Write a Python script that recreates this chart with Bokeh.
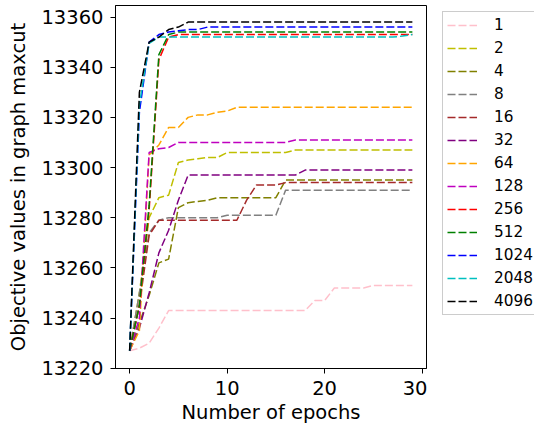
from bokeh.plotting import figure
from bokeh.models import Legend, LegendItem, FixedTicker, Range1d
from bokeh.layouts import row
from bokeh.embed import file_html
from bokeh.resources import INLINE

epochs = list(range(30))

s1 = [13227, 13228, 13230, 13236] + [13243] * 15 + [13247, 13247] + [13252] * 4 + [13253] * 5
s2 = [13227, 13250, 13280, 13288, 13289, 13302, 13303, 13303.5, 13304, 13304] + [13306] * 7 + [13307] * 13
s4 = [13227, 13238, 13249, 13262, 13263.5, 13284, 13286, 13286.5, 13287, 13288] + [13288] * 6 + [13295] * 14
s8 = [13227, 13250, 13274, 13279] + [13280] * 6 + [13281] * 6 + [13291] * 14
s16 = [13227, 13245, 13273] + [13279] * 9 + [13287] + [13293] * 3 + [13294] * 14
s32 = [13227, 13236, 13250, 13266, 13275, 13287] + [13297] * 12 + [13299] * 12
s64 = [13227, 13235, 13305, 13309, 13316, 13316, 13320, 13321, 13321, 13322, 13322.5] + [13324] * 19
s128 = [13227, 13240, 13306, 13307.5, 13308] + [13310] * 12 + [13311] * 13
s256 = [13227, 13245, 13283, 13343, 13352] + [13353] * 25
s512 = [13227, 13245, 13285, 13345, 13353] + [13354] * 25
s1024 = [13227, 13322, 13350, 13353, 13354, 13354.5, 13355, 13355] + [13356] * 22
s2048 = [13227, 13325, 13349.5] + [13352] * 25 + [13352.4, 13353]
s4096 = [13227, 13330, 13350, 13352, 13355, 13356] + [13358] * 24

labels = ["1", "2", "4", "8", "16", "32", "64", "128", "256", "512", "1024", "2048", "4096"]
series = [s1, s2, s4, s8, s16, s32, s64, s128, s256, s512, s1024, s2048, s4096]
colors = ["#ffc0cb", "#bfbf00", "#808000", "#808080", "#a52a2a", "#800080", "#ffa500",
          "#bf00bf", "#ff0000", "#008000", "#0000ff", "#00bfbf", "#000000"]

x_ticks = [0, 10, 20, 30]
y_ticks = [13220, 13240, 13260, 13280, 13300, 13320, 13340, 13360]

FONT = "DejaVu Sans"

p = figure(width=427, height=428, output_backend="svg", toolbar_location=None,
           x_range=Range1d(-1.45, 30.45), y_range=Range1d(13219.9, 13364.6),
           min_border_left=115, min_border_right=1, min_border_top=5, min_border_bottom=60)

p.grid.visible = False
p.outline_line_color = "black"
p.outline_line_width = 1
p.outline_line_alpha = 1
p.background_fill_color = "white"
p.border_fill_color = "white"

p.xaxis.ticker = FixedTicker(ticks=x_ticks)
p.yaxis.ticker = FixedTicker(ticks=y_ticks)
p.xaxis.axis_label = "Number of epochs"
p.yaxis.axis_label = "Objective values in graph maxcut"
for ax in (p.xaxis, p.yaxis):
    ax.axis_label_text_font = FONT
    ax.axis_label_text_font_size = "19.5px"
    ax.axis_label_text_font_style = "normal"
    ax.axis_label_text_color = "black"
    ax.major_label_text_font = FONT
    ax.major_label_text_font_size = "19.5px"
    ax.major_label_text_color = "black"
    ax.axis_line_color = "black"
    ax.major_tick_line_color = "black"
    ax.major_tick_out = 5
    ax.major_tick_in = 0
    ax.minor_tick_line_color = None
p.yaxis.major_label_standoff = 7
p.yaxis.axis_label_standoff = 8
p.xaxis.major_label_standoff = 7
p.xaxis.axis_label_standoff = 3

# legend panel: a second figure that holds the legend (its lines fall outside its ranges)
p2 = figure(width=107, height=428, output_backend="svg", toolbar_location=None,
            x_range=Range1d(1000, 1001), y_range=Range1d(0, 1),
            x_axis_location=None, y_axis_location=None,
            min_border_left=9, min_border_right=0, min_border_top=0, min_border_bottom=0)
p2.grid.visible = False
p2.outline_line_color = None
p2.background_fill_color = "white"
p2.border_fill_color = "white"

items = []
for lab, ys, col in zip(labels, series, colors):
    p.line(epochs, ys, line_color=col, line_width=1.5, line_dash="8 3")
    r2 = p2.line(epochs, ys, line_color=col, line_width=1.5, line_dash="8 3")
    items.append(LegendItem(label=lab, renderers=[r2]))

legend = Legend(items=items, location="top_left")
legend.margin = 6
legend.padding = 4
legend.spacing = 5
legend.glyph_width = 30
legend.glyph_height = 18
legend.label_height = 18
legend.label_standoff = 17
legend.label_text_font = FONT
legend.label_text_font_size = "15.3px"
legend.label_text_color = "black"
legend.border_line_color = "#cccccc"
legend.border_line_width = 1
legend.border_line_alpha = 1
legend.background_fill_color = "white"
legend.background_fill_alpha = 0.8
p2.add_layout(legend, "center")

layout = row(p, p2)
open("out.html", "w").write(file_html(layout, INLINE))
